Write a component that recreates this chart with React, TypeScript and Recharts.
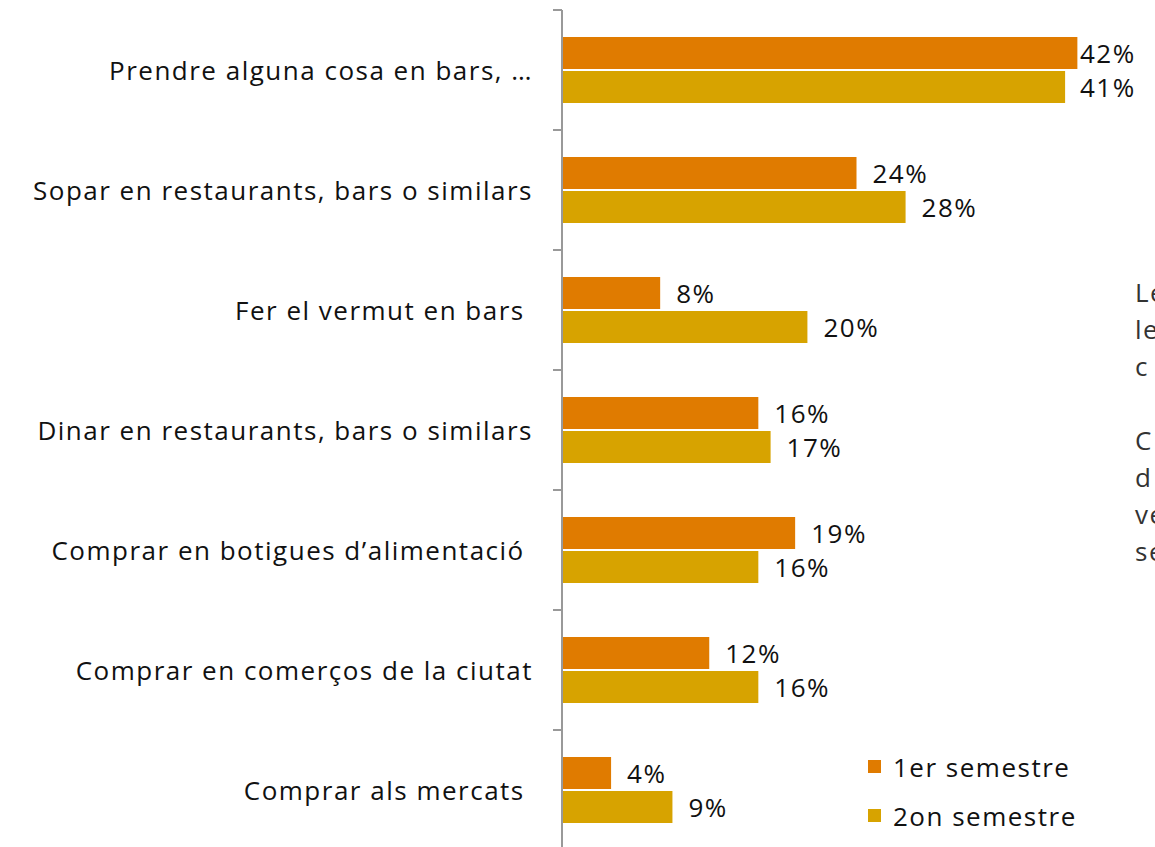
import React from "react";
import { BarChart, Bar, XAxis, YAxis, LabelList } from "recharts";

const CATEGORIES = [
  "Prendre alguna cosa en bars, …",
  "Sopar en restaurants, bars o similars",
  "Fer el vermut en bars ",
  "Dinar en restaurants, bars o similars",
  "Comprar en botigues d’alimentació ",
  "Comprar en comerços de la ciutat",
  "Comprar als mercats ",
];
const FIRST_SEM = [42, 24, 8, 16, 19, 12, 4];
const SECOND_SEM = [41, 28, 20, 17, 16, 16, 9];
const SERIES = [
  { key: "s1", name: "1er semestre", color: "#e07b00" },
  { key: "s2", name: "2on semestre", color: "#d7a300" },
];
const SIDE_TEXT = ["Le", "le", "c", "", "C", "d", "ve", "se"];

const FONT = "'Open Sans', 'DejaVu Sans', sans-serif";
const SPACING = 1.5;
const data = CATEGORIES.map((name, i) => ({ name, s1: FIRST_SEM[i], s2: SECOND_SEM[i] }));

const AxisTick = (props: any) => {
  const { x, y, payload } = props;
  const half = payload?.offset ?? 60;
  return (
    <g>
      <line x1={x + 20} x2={x + 29} y1={y - half} y2={y - half} stroke="#999" strokeWidth={2} />
      <text
        x={x}
        y={y}
        textAnchor="end"
        dominantBaseline="central"
        fontSize={26}
        fontFamily={FONT}
        fill="#111"
        style={{ whiteSpace: "pre", letterSpacing: SPACING }}
      >
        {payload.value}
      </text>
    </g>
  );
};

const ValueLabel = (props: any) => {
  const { x, y, width, height, value } = props;
  const lx = Math.min(x + width + 16, 1080);
  return (
    <text
      x={lx}
      y={y + height / 2}
      dominantBaseline="central"
      fontSize={26}
      fontFamily={FONT}
      fill="#111"
      style={{ letterSpacing: SPACING }}
    >
      {value}%
    </text>
  );
};

export default function App() {
  return (
    <div style={{ position: "absolute", left: 0, top: 0, width: 1155, height: 847, overflow: "hidden", background: "#fff" }}>
      <BarChart
        width={1155}
        height={850}
        data={data}
        layout="vertical"
        margin={{ top: 10, right: 4, bottom: 0, left: 0 }}
        barGap={2}
        barSize={32}
      >
        <XAxis type="number" domain={[0, 48]} hide />
        <YAxis
          type="category"
          dataKey="name"
          width={562}
          tickLine={false}
          axisLine={{ stroke: "#999", strokeWidth: 2 }}
          tickSize={9}
          tickMargin={20}
          tick={<AxisTick />}
          interval={0}
        />
        {SERIES.map((s) => (
          <Bar key={s.key} dataKey={s.key} name={s.name} fill={s.color} isAnimationActive={false}>
            <LabelList dataKey={s.key} content={<ValueLabel />} />
          </Bar>
        ))}
      </BarChart>
      <div style={{ position: "absolute", left: 868, top: 742, fontFamily: FONT, fontSize: 26, color: "#111", letterSpacing: SPACING }}>
        {SERIES.map((s) => (
          <div key={s.key} style={{ display: "flex", alignItems: "center", height: 49 }}>
            <span style={{ width: 13, height: 13, background: s.color, marginRight: 12, display: "inline-block" }} />
            {s.name}
          </div>
        ))}
      </div>
      <div style={{ position: "absolute", left: 1135, top: 274, fontFamily: FONT, fontSize: 26, color: "#333", lineHeight: "37px", whiteSpace: "pre", letterSpacing: SPACING }}>
        {SIDE_TEXT.map((t, i) => (
          <div key={i} style={{ height: 37 }}>{t}</div>
        ))}
      </div>
    </div>
  );
}
